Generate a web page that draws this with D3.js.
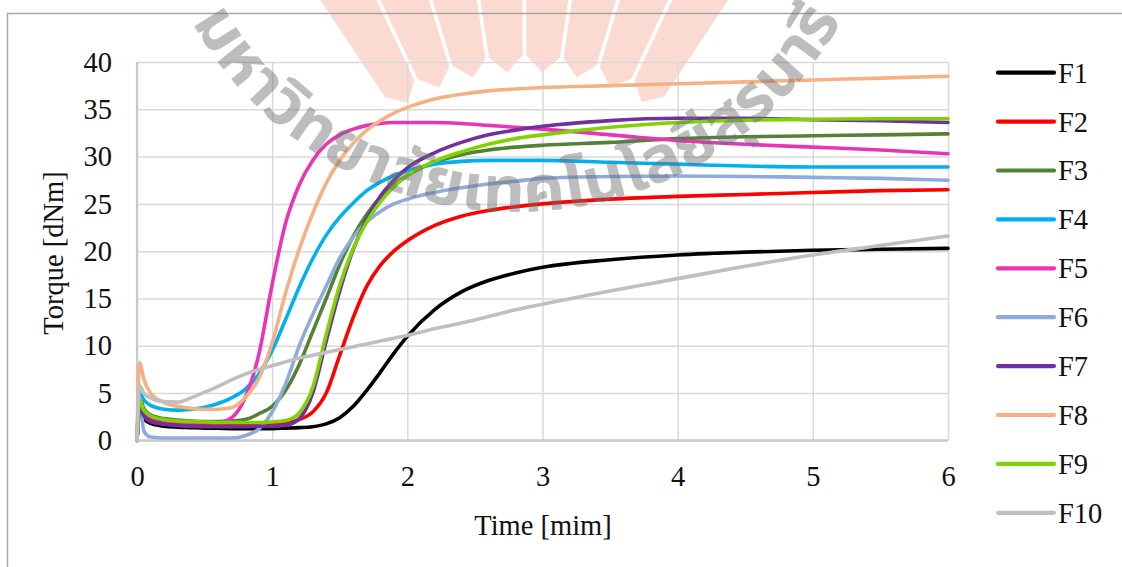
<!DOCTYPE html>
<html><head><meta charset="utf-8">
<script src="https://cdn.jsdelivr.net/npm/d3@7"></script>
<style>body{margin:0;background:#fff}svg{display:block}</style>
</head><body><svg id="c" width="1122" height="567"></svg>
<script>
const time = [0, 0.02, 0.05, 0.1, 0.2, 0.3, 0.4, 0.5, 0.6, 0.7, 0.8, 0.9, 1.0, 1.1, 1.2, 1.3, 1.4, 1.5, 1.6, 1.7, 1.8, 1.9, 2.0, 2.2, 2.4, 2.6, 2.8, 3.0, 3.5, 4.0, 4.5, 5.0, 5.5, 6.0];
const F1 = [0, 3.0, 2.3, 1.8, 1.5, 1.4, 1.35, 1.3, 1.28, 1.25, 1.25, 1.25, 1.25, 1.3, 1.35, 1.45, 1.75, 2.4, 3.6, 5.3, 7.2, 9.2, 11.0, 13.8, 15.7, 16.9, 17.7, 18.3, 19.1, 19.6, 19.9, 20.1, 20.2, 20.3];
const F2 = [0, 3.6, 2.8, 2.2, 1.9, 1.8, 1.7, 1.7, 1.65, 1.65, 1.65, 1.7, 1.75, 1.9, 2.2, 3.0, 5.0, 9.0, 13.0, 16.3, 18.5, 20.0, 21.1, 22.7, 23.7, 24.3, 24.7, 25.0, 25.5, 25.8, 26.0, 26.2, 26.4, 26.5];
const F3 = [0, 4.5, 3.4, 2.7, 2.3, 2.15, 2.05, 2.0, 2.0, 2.05, 2.2, 2.8, 3.6, 5.3, 8.0, 11.5, 15.0, 18.6, 21.6, 23.9, 25.7, 27.0, 28.0, 29.4, 30.2, 30.7, 31.0, 31.2, 31.5, 31.9, 32.1, 32.2, 32.3, 32.4];
const F4 = [0, 5.0, 4.3, 3.7, 3.3, 3.2, 3.3, 3.5, 3.9, 4.5, 5.4, 7.0, 9.5, 12.8, 16.2, 19.2, 21.7, 23.6, 25.1, 26.4, 27.3, 28.0, 28.5, 29.2, 29.5, 29.6, 29.6, 29.6, 29.4, 29.2, 29.0, 28.9, 28.9, 28.9];
const F5 = [0, 4.0, 3.0, 2.5, 2.1, 2.0, 1.9, 1.9, 1.9, 2.4, 4.5, 9.0, 16.5, 23.0, 27.0, 29.6, 31.3, 32.3, 32.9, 33.3, 33.5, 33.6, 33.6, 33.6, 33.5, 33.3, 33.1, 32.9, 32.3, 31.7, 31.3, 31.0, 30.7, 30.3];
const F6 = [0, 4.5, 1.0, 0.35, 0.25, 0.25, 0.25, 0.25, 0.25, 0.25, 0.5, 1.2, 3.0, 6.0, 10.0, 13.3, 16.3, 19.3, 21.5, 23.1, 24.2, 25.0, 25.5, 26.2, 26.7, 27.1, 27.4, 27.7, 27.9, 27.95, 27.9, 27.8, 27.7, 27.5];
const F7 = [0, 3.5, 2.6, 2.0, 1.7, 1.55, 1.5, 1.45, 1.45, 1.45, 1.45, 1.5, 1.5, 1.6, 2.3, 5.0, 10.5, 15.8, 20.2, 23.4, 25.8, 27.5, 28.8, 30.4, 31.5, 32.3, 32.8, 33.2, 33.8, 34.05, 34.05, 33.9, 33.8, 33.6];
const F8 = [0, 8.2, 6.5, 5.0, 4.0, 3.6, 3.4, 3.3, 3.3, 3.45, 4.5, 6.5, 10.3, 15.6, 20.2, 24.0, 27.2, 29.6, 31.4, 32.8, 33.8, 34.6, 35.2, 36.1, 36.6, 36.95, 37.15, 37.3, 37.5, 37.7, 37.9, 38.1, 38.3, 38.5];
const F9 = [0, 4.2, 3.2, 2.6, 2.2, 2.05, 2.0, 1.95, 1.9, 1.9, 1.9, 1.9, 1.95, 2.1, 2.9, 5.6, 11.2, 16.4, 20.3, 23.1, 25.2, 26.8, 28.0, 29.5, 30.5, 31.3, 31.9, 32.3, 33.1, 33.6, 33.85, 33.95, 34.0, 34.0];
const F10 = [0, 5.8, 5.0, 4.5, 4.1, 4.05, 4.5, 5.1, 5.7, 6.4, 7.0, 7.5, 7.9, 8.3, 8.7, 9.0, 9.3, 9.6, 9.9, 10.2, 10.5, 10.8, 11.1, 11.8, 12.4, 13.1, 13.8, 14.4, 15.8, 17.1, 18.4, 19.6, 20.6, 21.6];

const seriesNames = ["F1", "F2", "F3", "F4", "F5", "F6", "F7", "F8", "F9", "F10"];
const seriesValues = [F1, F2, F3, F4, F5, F6, F7, F8, F9, F10];
const seriesColors = ["#000000", "#FF0000", "#548235", "#00B0F0", "#E636B6", "#8FAADC", "#7030A0", "#F4B183", "#7ED300", "#BFBFBF"];
const xTicks = [0, 1, 2, 3, 4, 5, 6];
const yTicks = [0, 5, 10, 15, 20, 25, 30, 35, 40];
const xTitle = "Time [mim]";
const yTitle = "Torque [dNm]";
const watermark = "มหาวิทยาลัยเทคโนโลยีสุรนารี";

const svg = d3.select("#c");
const L = 137, R = 948, T = 62, B = 440.4;
const x = d3.scaleLinear().domain([0, 6]).range([L, R]);
const y = d3.scaleLinear().domain([0, 40]).range([B, T]);
const serif = "'Liberation Serif','Times New Roman',serif";
const FS = 28.5;

// faded logo behind
const logo = svg.append("g");
const cx = 525, cy = 310, rIn = 236, rNotch = 254, rOut = 420;
const a0 = -123.7, a1 = -56.5, nW = 8;
const step = (a1 - a0) / nW;
const rad = d => d * Math.PI / 180;
for (let i = 0; i < nW; i++) {
  const s = a0 + i * step, e = s + step, m = (s + e) / 2;
  const pts = [
    [cx + rNotch * Math.cos(rad(s)), cy + rNotch * Math.sin(rad(s))],
    [cx + rOut * Math.cos(rad(s)), cy + rOut * Math.sin(rad(s))],
    [cx + rOut * Math.cos(rad(e)), cy + rOut * Math.sin(rad(e))],
    [cx + rNotch * Math.cos(rad(e)), cy + rNotch * Math.sin(rad(e))],
    [cx + rIn * Math.cos(rad(m)), cy + rIn * Math.sin(rad(m))]
  ];
  logo.append("path").attr("d", "M" + pts.join("L") + "Z")
    .attr("fill", "#FBDBD1").attr("stroke", "#fff").attr("stroke-width", 3.5);
}

// outer border
svg.append("path").attr("d", "M7.5,600 V13.5 H1130").attr("fill", "none")
  .attr("stroke", "#A6A6A6").attr("stroke-width", 1.5);

// gridlines + tick labels
const gy = svg.append("g").attr("transform", `translate(${L},0)`)
  .call(d3.axisLeft(y).tickValues(yTicks).tickFormat(d3.format("d")).tickSize(-(R - L)).tickPadding(25));
const gx = svg.append("g").attr("transform", `translate(0,${B})`)
  .call(d3.axisBottom(x).tickValues(xTicks).tickFormat(d3.format("d")).tickSize(-(B - T)).tickPadding(25));
[gx, gy].forEach(g => {
  g.select(".domain").remove();
  g.selectAll("line").attr("stroke", "#D9D9D9").attr("stroke-width", 1.5);
  g.selectAll("text").attr("font-family", serif).attr("font-size", FS).attr("fill", "#111");
});
// axis lines
svg.append("line").attr("x1", L).attr("x2", L).attr("y1", T).attr("y2", B)
  .attr("stroke", "#C8C8C8").attr("stroke-width", 2.2);
svg.append("line").attr("x1", L).attr("x2", R).attr("y1", B).attr("y2", B)
  .attr("stroke", "#C8C8C8").attr("stroke-width", 2.2);

// series
const line = d3.line().x((d, i) => x(time[i])).y(d => y(d)).curve(d3.curveMonotoneX);
seriesValues.forEach((vals, k) => {
  svg.append("path").attr("d", line(vals)).attr("fill", "none")
    .attr("stroke", seriesColors[k]).attr("stroke-width", 3.6)
    .attr("stroke-linejoin", "round").attr("stroke-linecap", "round");
});

// axis titles
svg.append("text").attr("x", 543).attr("y", 535).attr("text-anchor", "middle")
  .attr("font-family", serif).attr("font-size", FS).attr("fill", "#111").text(xTitle);
svg.append("text").attr("transform", "translate(63,253) rotate(-90)").attr("text-anchor", "middle")
  .attr("font-family", serif).attr("font-size", FS).attr("fill", "#111").text(yTitle);

// legend
const lg = svg.append("g");
seriesNames.forEach((n, i) => {
  const yy = 72.7 + i * 48.9;
  lg.append("line").attr("x1", 998).attr("x2", 1054).attr("y1", yy).attr("y2", yy)
    .attr("stroke", seriesColors[i]).attr("stroke-width", 4.2).attr("stroke-linecap", "round");
  lg.append("text").attr("x", 1058).attr("y", yy).attr("dy", "0.35em")
    .attr("font-family", serif).attr("font-size", FS).attr("fill", "#111").text(n);
});

// watermark text on arc
const defs = svg.append("defs");
defs.append("path").attr("id", "wmArc").attr("d", "M 192 22 A 372 372 0 0 0 845 14");
svg.append("text").attr("font-family", "'Noto Sans Thai','Noto Sans','DejaVu Sans',sans-serif")
  .attr("font-size", 64).attr("font-weight", "bold").attr("fill", "#707070").attr("opacity", 0.46)
  .append("textPath").attr("href", "#wmArc").attr("startOffset", 0)
  .attr("textLength", 790).attr("lengthAdjust", "spacingAndGlyphs").text(watermark);
</script></body></html>
